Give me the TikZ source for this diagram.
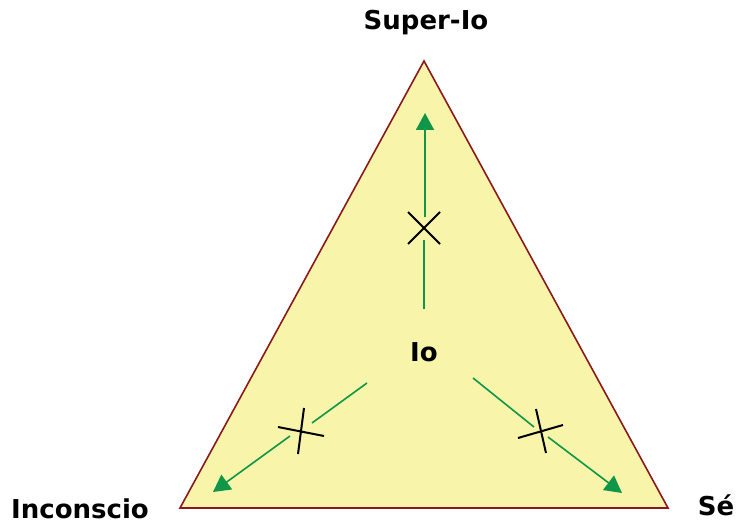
\documentclass[tikz,border=0pt]{standalone}
\usepackage{fontspec}
\setmainfont{DejaVu Sans}
\usepackage{xcolor}
\usetikzlibrary{arrows.meta}

\definecolor{triyellow}{RGB}{248,244,170}
\definecolor{trired}{RGB}{140,25,25}
\definecolor{arrowgreen}{RGB}{16,150,72}

\begin{document}
\begin{tikzpicture}[x=1pt, y=-1pt,
    psyche/.style={font=\fontsize{26}{30}\selectfont\bfseries, inner sep=0pt, anchor=base},
    arrow/.style={-{Triangle[length=17pt, width=18pt]}, line width=1.6pt, arrowgreen},
    link/.style={line width=1.6pt, arrowgreen},
    cross/.style={line width=2pt, black}]

    \useasboundingbox (0,0) rectangle (736,524);

    % Triangle
    \coordinate (top) at (424,61);
    \coordinate (left) at (180,508);
    \coordinate (right) at (668,508);
    \draw[trired, fill=triyellow, line width=1.6pt] (top) -- (left) -- (right) -- cycle;

    % Labels
    \node[psyche] (superio) at (426,30) {Super-Io};
    \node[psyche] (inconscio) at (80,518) {Inconscio};
    \node[psyche] (se) at (716,515) {Sé};
    \node[psyche] (io) at (424,361) {Io};

    % Blocked path up
    \coordinate (upstart) at (424,309);
    \coordinate (upgap1) at (424,240);
    \coordinate (upgap2) at (425,217);
    \coordinate (uptip) at (425,113);
    \draw[link] (upstart) -- (upgap1);
    \draw[arrow] (upgap2) -- (uptip);
    \coordinate (upx) at (424,228);
    \draw[cross] ([shift={(-16,-16)}]upx) -- ([shift={(16,16)}]upx);
    \draw[cross] ([shift={(16,-16)}]upx) -- ([shift={(-16,16)}]upx);

    % Blocked path left
    \coordinate (lstart) at (367,383);
    \coordinate (lgap1) at (312,423);
    \coordinate (lgap2) at (290,436);
    \coordinate (ltip) at (213,492);
    \draw[link] (lstart) -- (lgap1);
    \draw[arrow] (lgap2) -- (ltip);
    \coordinate (lx) at (301,431);
    \draw[cross] (278,427) -- (324,436);
    \draw[cross] (304,408) -- (298,454);

    % Blocked path right
    \coordinate (rstart) at (473,378);
    \coordinate (rgap1) at (534,427);
    \coordinate (rgap2) at (548,437);
    \coordinate (rtip) at (622,493);
    \draw[link] (rstart) -- (rgap1);
    \draw[arrow] (rgap2) -- (rtip);
    \coordinate (rx) at (541,431);
    \draw[cross] (518,438) -- (563,425);
    \draw[cross] (536,409) -- (546,453);
\end{tikzpicture}
\end{document}
